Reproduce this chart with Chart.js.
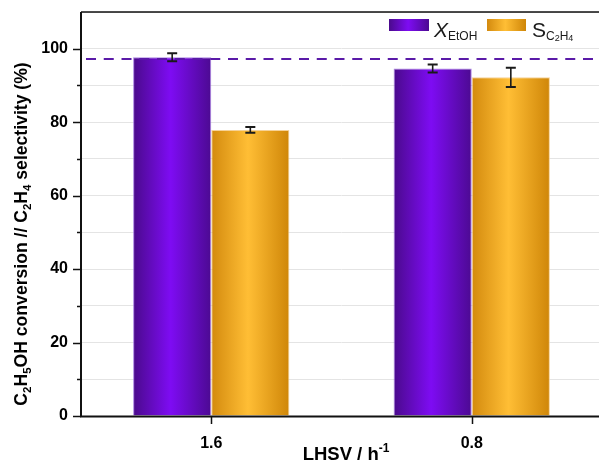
<!DOCTYPE html>
<html>
<head>
<meta charset="utf-8">
<script src="https://cdn.jsdelivr.net/npm/chart.js@4/dist/chart.umd.min.js"></script>
<style>
  html, body { margin: 0; padding: 0; background: #fff; overflow: hidden; }
  canvas { display: block; }
</style>
</head>
<body>
<canvas id="c" width="602" height="460"></canvas>
<script>
// LHSV categories (h^-1)
const categories = ['1.6', '0.8'];
// Ethanol conversion (%) and its error
const conversion = [97.7, 94.6];
const conversionErr = [1.1, 1.1];
// Ethylene selectivity (%) and its error
const selectivity = [77.9, 92.2];
const selectivityErr = [0.8, 2.6];
// Equilibrium reference level (%)
const referenceLevel = 97.2;
// Y-axis labelled ticks
const yTickLabels = [0, 20, 40, 60, 80, 100];

const FONT = '"Liberation Sans", Arial, Helvetica, sans-serif';

// Draw a run of text pieces with their own fonts and vertical offsets
function drawRich(ctx, x, y, segs, align) {
  let total = 0;
  segs.forEach(s => { ctx.font = s.f; s.w = ctx.measureText(s.t).width; total += s.w + (s.gap || 0); });
  let cx = align === 'center' ? x - total / 2 : x;
  ctx.textBaseline = 'alphabetic';
  ctx.textAlign = 'left';
  segs.forEach(s => {
    ctx.font = s.f;
    ctx.fillText(s.t, cx, y + (s.dy || 0));
    cx += s.w + (s.gap || 0);
  });
}

function barGradient(ctx, x0, x1, stops) {
  const g = ctx.createLinearGradient(x0, 0, x1, 0);
  stops.forEach(([p, c]) => g.addColorStop(p, c));
  return g;
}
const purpleStops = [[0, '#4a0a8c'], [0.48, '#7e0cf3'], [1, '#4c0a92']];
const orangeStops = [[0, '#d38a0e'], [0.47, '#ffbe35'], [1, '#cf8608']];

const decorations = {
  id: 'decorations',
  beforeDatasetsDraw(chart) {
    const ctx = chart.ctx;
    [purpleStops, orangeStops].forEach((stops, di) => {
      chart.getDatasetMeta(di).data.forEach(el => {
        const x0 = el.x - el.width / 2, x1 = el.x + el.width / 2;
        el.options = Object.assign({}, el.options, { backgroundColor: barGradient(ctx, x0, x1, stops) });
      });
    });
  },
  afterDatasetsDraw(chart) {
    const ctx = chart.ctx;
    const y = chart.scales.y;
    const area = chart.chartArea;
    // error bars
    const errs = [[conversion, conversionErr], [selectivity, selectivityErr]];
    ctx.save();
    ctx.strokeStyle = '#1a1a1a';
    errs.forEach(([vals, e], di) => {
      chart.getDatasetMeta(di).data.forEach((el, i) => {
        const top = y.getPixelForValue(vals[i] + e[i]);
        const bot = y.getPixelForValue(vals[i] - e[i]);
        ctx.lineWidth = 1.6;
        ctx.beginPath();
        ctx.moveTo(el.x, top); ctx.lineTo(el.x, bot);
        ctx.stroke();
        ctx.lineWidth = 2;
        ctx.beginPath();
        ctx.moveTo(el.x - 5, top); ctx.lineTo(el.x + 5, top);
        ctx.moveTo(el.x - 5, bot); ctx.lineTo(el.x + 5, bot);
        ctx.stroke();
      });
    });
    // dashed reference line
    const ry = y.getPixelForValue(referenceLevel);
    ctx.strokeStyle = '#5a1aa8';
    ctx.lineWidth = 2;
    ctx.setLineDash([10, 7.75]);
    ctx.beginPath();
    ctx.moveTo(area.left + 5, ry); ctx.lineTo(chart.width, ry);
    ctx.stroke();
    ctx.setLineDash([]);
    ctx.restore();
  },
  afterDraw(chart) {
    const ctx = chart.ctx;
    const y = chart.scales.y, x = chart.scales.x;
    const area = chart.chartArea;
    ctx.save();
    ctx.strokeStyle = '#111';
    // frame: top, left, bottom
    ctx.lineWidth = 1.5;
    ctx.beginPath();
    ctx.moveTo(area.left, area.top); ctx.lineTo(chart.width, area.top);
    ctx.stroke();
    ctx.lineWidth = 2;
    ctx.beginPath();
    ctx.moveTo(area.left, area.top); ctx.lineTo(area.left, area.bottom + 0.5);
    ctx.moveTo(area.left - 1, area.bottom + 0.5); ctx.lineTo(chart.width, area.bottom + 0.5);
    ctx.stroke();
    // y tick marks (major labelled, minor between)
    ctx.lineWidth = 1.5;
    ctx.beginPath();
    for (let v = 0; v <= 100; v += 10) {
      const py = Math.round(y.getPixelForValue(v)) + 0.5;
      const len = yTickLabels.includes(v) ? 8 : 4;
      ctx.moveTo(area.left - len, py); ctx.lineTo(area.left, py);
    }
    // x tick marks at category centres
    categories.forEach((c, i) => {
      const px = Math.round(x.getPixelForValue(i)) + 0.5;
      ctx.moveTo(px, area.bottom); ctx.lineTo(px, area.bottom + 8);
    });
    ctx.stroke();

    ctx.fillStyle = '#000';
    // x title
    drawRich(ctx, 346, 460, [
      { t: 'LHSV / h', f: 'bold 18.5px ' + FONT },
      { t: '-1', f: 'bold 12px ' + FONT, dy: -8 }
    ], 'center');

    // y title (rotated)
    ctx.save();
    ctx.translate(27, 234);
    ctx.rotate(-Math.PI / 2);
    const big = 'bold 17.6px ' + FONT, sub = 'bold 11.5px ' + FONT;
    drawRich(ctx, 0, 0, [
      { t: 'C', f: big }, { t: '2', f: sub, dy: 4 },
      { t: 'H', f: big }, { t: '5', f: sub, dy: 4 },
      { t: 'OH conversion // C', f: big }, { t: '2', f: sub, dy: 4 },
      { t: 'H', f: big }, { t: '4', f: sub, dy: 4 },
      { t: ' selectivity (%)', f: big }
    ], 'center');
    ctx.restore();

    // legend
    ctx.fillStyle = barGradient(ctx, 389, 429, purpleStops);
    ctx.fillRect(389, 19, 40, 12);
    ctx.fillStyle = barGradient(ctx, 487, 526, orangeStops);
    ctx.fillRect(487, 19, 39, 12);
    ctx.fillStyle = '#1a1a1a';
    drawRich(ctx, 434, 37, [
      { t: 'X', f: 'italic 21px ' + FONT },
      { t: 'EtOH', f: '12px ' + FONT, dy: 2.5 }
    ], 'left');
    drawRich(ctx, 532, 37, [
      { t: 'S', f: '21px ' + FONT },
      { t: 'C', f: '12px ' + FONT, dy: 2.5 },
      { t: '2', f: '9px ' + FONT, dy: 4 },
      { t: 'H', f: '12px ' + FONT, dy: 2.5 },
      { t: '4', f: '9px ' + FONT, dy: 4 }
    ], 'left');
    ctx.restore();
  }
};

new Chart(document.getElementById('c'), {
  type: 'bar',
  data: {
    labels: categories,
    datasets: [
      { label: 'X EtOH', data: conversion, backgroundColor: '#7e0cf3',
        borderColor: 'rgba(150,100,220,0.8)', borderWidth: 1, borderSkipped: 'bottom' },
      { label: 'S C2H4', data: selectivity, backgroundColor: '#ffbe35',
        borderColor: 'rgba(245,205,140,0.9)', borderWidth: 1, borderSkipped: 'bottom' }
    ]
  },
  options: {
    responsive: false,
    animation: false,
    events: [],
    categoryPercentage: 0.6,
    barPercentage: 1.0,
    layout: { padding: { top: 12, left: 0, right: 0, bottom: 0 } },
    plugins: { legend: { display: false }, tooltip: { enabled: false } },
    scales: {
      x: {
        grid: { display: false, drawTicks: false },
        border: { display: false },
        ticks: { color: '#000', font: { family: FONT, size: 16, weight: 'bold' }, padding: 18, maxRotation: 0 },
        afterFit(s) { s.height = 44; s.paddingLeft = 0; s.paddingRight = 0; }
      },
      y: {
        min: 0, max: 110,
        grid: { color: '#e4e4e4', lineWidth: 1, drawTicks: false },
        border: { display: false },
        ticks: {
          stepSize: 10,
          color: '#000',
          font: { family: FONT, size: 16, weight: 'bold' },
          padding: 13,
          callback: v => yTickLabels.includes(v) ? String(v) : ''
        },
        afterFit(s) { s.width = 81; s.paddingTop = 0; s.paddingBottom = 0; }
      }
    }
  },
  plugins: [decorations]
});
</script>
</body>
</html>
